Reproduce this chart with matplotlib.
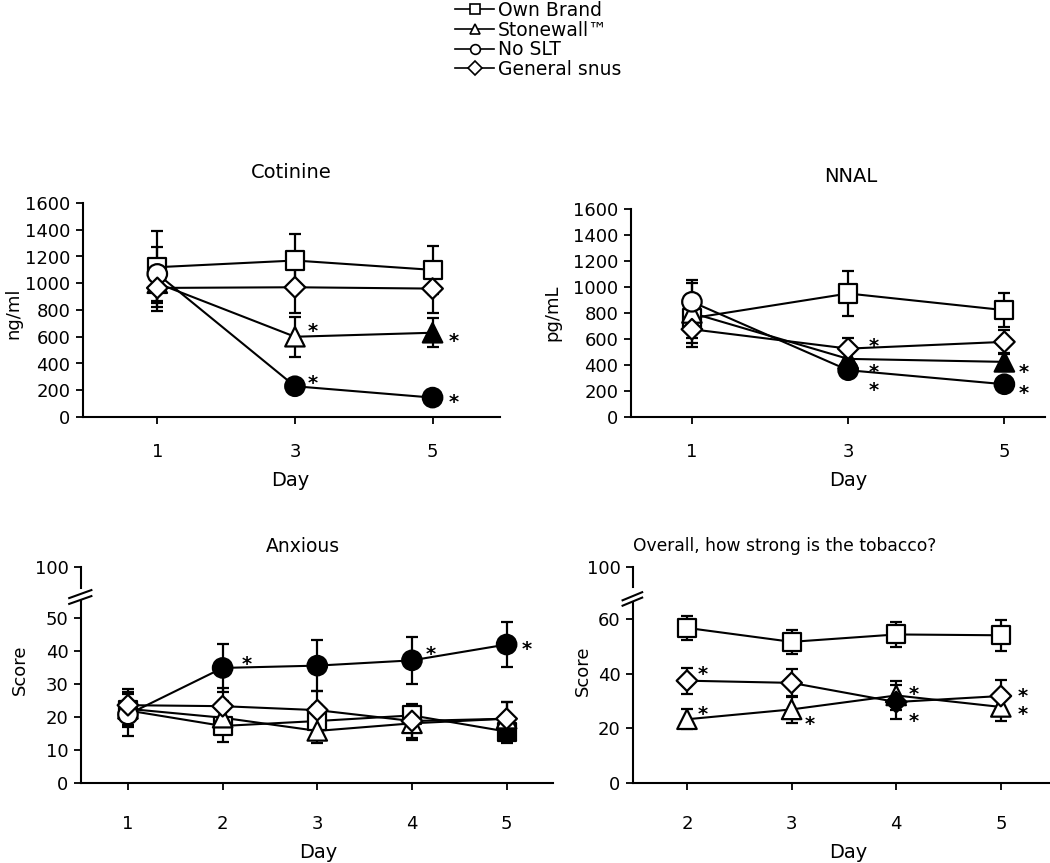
import matplotlib
matplotlib.use("Agg")
import matplotlib.pyplot as plt
from matplotlib.lines import Line2D

plt.rcParams['font.family'] = ['DejaVu Sans']

# DATA
series_names = ["Own Brand", "Stonewall\u2122", "No SLT", "General snus"]
series_markers = ["s", "^", "o", "D"]

# Cotinine (ng/ml), days 1, 3, 5
cot_days = ["1", "3", "5"]
cot_own = [1120, 1170, 1100]
cot_own_err = [270, 200, 180]
cot_stone = [1000, 600, 630]
cot_stone_err = [180, 150, 110]
cot_noslt = [1070, 230, 145]
cot_noslt_err = [200, 20, 15]
cot_gen = [965, 970, 960]
cot_gen_err = [170, 190, 180]
cot_filled_stone = [False, False, True]
cot_filled_noslt = [False, True, True]

# NNAL (pg/mL), days 1, 3, 5
nnal_days = ["1", "3", "5"]
nnal_own = [760, 950, 822]
nnal_own_err = [150, 175, 130]
nnal_stone = [800, 447, 424]
nnal_stone_err = [230, 60, 70]
nnal_noslt = [886, 360, 252]
nnal_noslt_err = [167, 50, 30]
nnal_gen = [675, 526, 578]
nnal_gen_err = [135, 85, 95]
nnal_filled_stone = [False, True, True]
nnal_filled_noslt = [False, True, True]

# Anxious score, days 1-5
anx_days = [1, 2, 3, 4, 5]
anx_own = [22.0, 17.3, 18.8, 20.5, 15.6]
anx_own_err = [5.0, 4.8, 5.0, 3.5, 3.6]
anx_stone = [22.5, 19.8, 15.8, 18.1, 19.5]
anx_stone_err = [5.0, 5.0, 3.8, 5.1, 5.0]
anx_noslt = [20.8, 34.9, 35.6, 37.2, 42.0]
anx_noslt_err = [6.5, 7.3, 7.8, 7.1, 6.8]
anx_gen = [23.6, 23.3, 22.1, 18.8, 19.5]
anx_gen_err = [5.0, 5.6, 5.8, 5.0, 5.0]
anx_filled_own = [False, False, False, False, True]
anx_filled_noslt = [False, True, True, True, True]

# Overall, how strong is the tobacco? days 2-5
str_days = [2, 3, 4, 5]
str_own = [56.7, 51.6, 54.3, 54.0]
str_own_err = [4.4, 4.4, 4.7, 5.7]
str_stone = [23.3, 26.9, 32.0, 27.8]
str_stone_err = [3.6, 4.9, 5.4, 5.1]
str_gen = [37.4, 36.6, 29.6, 31.8]
str_gen_err = [4.8, 5.1, 6.1, 6.0]
str_filled_gen = [False, False, True, False]

# significance stars: (series index, point index)
cot_stars = [(1, 1), (2, 1), (1, 2), (2, 2)]
nnal_stars = [(3, 1), (1, 1), (2, 1), (1, 2), (2, 2)]
anx_stars = [(2, 1), (2, 3), (2, 4)]
str_stars = [(3, 0), (1, 0), (1, 1), (1, 2), (3, 2), (3, 3), (1, 3)]

# STYLE / LAYOUT
W, H = 1050, 863
FS = 13
ms = {"s": 13, "^": 14, "o": 14, "D": 10.5}
# star offsets in pixels (dx, dy up)
cot_star_off = [(18, 10), (18, 8), (21, -4), (21, 0)]
nnal_star_off = [(26, 7), (26, -9), (26, -15), (19, -6), (19, -4)]
anx_star_off = [(24, 8), (19, 11), (20, 0)]
str_star_off = [(16, 11), (16, 10), (18, -10), (18, 6), (18, -14), (22, 5), (22, -3)]


def px_rect(left, top, right, bottom):
    return [left / W, 1 - bottom / H, (right - left) / W, (bottom - top) / H]


def style_axes(ax, xpad=20):
    for s in ["top", "right"]:
        ax.spines[s].set_visible(False)
    for s in ["left", "bottom"]:
        ax.spines[s].set_linewidth(1.5)
    ax.tick_params(axis="both", direction="out", length=5, width=1.3, labelsize=FS)
    ax.tick_params(axis="x", pad=xpad)
    ax.tick_params(axis="y", pad=4)


def draw_series(ax, x, vals, errs, marker, filled=None):
    if filled is None:
        filled = [False] * len(vals)
    ax.errorbar(x, vals, yerr=errs, fmt="none", ecolor="black", elinewidth=1.6,
                capsize=4.5, capthick=1.6, zorder=2)
    ax.plot(x, vals, color="black", lw=1.5, zorder=3)
    faces = ["black" if f else "white" for f in filled]
    ax.scatter(x, vals, s=ms[marker] ** 2, marker=marker, facecolors=faces,
               edgecolors="black", linewidths=1.6, zorder=4)


def add_stars(ax, x, series_vals, stars, offsets):
    for (si, pi), (dx, dy) in zip(stars, offsets):
        ax.annotate("*", (x[pi], series_vals[si][pi]), xytext=(dx, dy - 5),
                    textcoords="offset pixels", ha="center", va="center",
                    fontsize=14, fontweight="bold", zorder=5)


def add_break(ax, y_frac_pairs):
    for (y0, y1) in y_frac_pairs:
        ax.plot([-0.025, 0.022], [y0, y1], transform=ax.transAxes, color="black",
                lw=1.5, clip_on=False)


fig = plt.figure(figsize=(W / 100, H / 100), dpi=100)

# Cotinine
ax1 = fig.add_axes(px_rect(83, 203, 500, 417))
xc = [0, 1, 2]
cot_vals = [cot_own, cot_stone, cot_noslt, cot_gen]
draw_series(ax1, xc, cot_own, cot_own_err, "s")
draw_series(ax1, xc, cot_stone, cot_stone_err, "^", cot_filled_stone)
draw_series(ax1, xc, cot_noslt, cot_noslt_err, "o", cot_filled_noslt)
draw_series(ax1, xc, cot_gen, cot_gen_err, "D")
add_stars(ax1, xc, cot_vals, cot_stars, cot_star_off)
ax1.set_xlim(-0.54, 2.49)
ax1.set_ylim(0, 1600)
ax1.set_yticks(range(0, 1601, 200))
ax1.set_xticks(xc)
ax1.set_xticklabels(cot_days)
style_axes(ax1, xpad=14)

# NNAL
ax2 = fig.add_axes(px_rect(631, 209, 1045, 417))
nnal_vals = [nnal_own, nnal_stone, nnal_noslt, nnal_gen]
draw_series(ax2, xc, nnal_own, nnal_own_err, "s")
draw_series(ax2, xc, nnal_stone, nnal_stone_err, "^", nnal_filled_stone)
draw_series(ax2, xc, nnal_noslt, nnal_noslt_err, "o", nnal_filled_noslt)
draw_series(ax2, xc, nnal_gen, nnal_gen_err, "D")
add_stars(ax2, xc, nnal_vals, nnal_stars, nnal_star_off)
ax2.set_xlim(-0.39, 2.26)
ax2.set_ylim(0, 1600)
ax2.set_yticks(range(0, 1601, 200))
ax2.set_xticks(xc)
ax2.set_xticklabels(nnal_days)
style_axes(ax2, xpad=14)

# Anxious (broken axis)
ax3 = fig.add_axes(px_rect(81, 601, 553, 783))
anx_vals = [anx_own, anx_stone, anx_noslt, anx_gen]
draw_series(ax3, anx_days, anx_own, anx_own_err, "s", anx_filled_own)
draw_series(ax3, anx_days, anx_stone, anx_stone_err, "^")
draw_series(ax3, anx_days, anx_noslt, anx_noslt_err, "o", anx_filled_noslt)
draw_series(ax3, anx_days, anx_gen, anx_gen_err, "D")
add_stars(ax3, anx_days, anx_vals, anx_stars, anx_star_off)
ax3.set_xlim(0.504, 5.49)
ax3.set_ylim(0, 55.2)
ax3.set_yticks(range(0, 51, 10))
ax3.set_xticks(anx_days)
style_axes(ax3, xpad=18)
ax3b = fig.add_axes(px_rect(81, 567, 553, 588))
ax3b.set_xlim(ax3.get_xlim())
ax3b.set_ylim(90, 100)
ax3b.set_yticks([100])
ax3b.set_xticks([])
style_axes(ax3b)
ax3b.spines["bottom"].set_visible(False)
ax3b.patch.set_visible(False)
add_break(ax3, [(1.016, 1.06), (0.984, 1.027)])

# Overall strength (broken axis)
ax4 = fig.add_axes(px_rect(633, 603, 1050, 783))
str_vals = [str_own, str_stone, None, str_gen]
draw_series(ax4, str_days, str_own, str_own_err, "s")
draw_series(ax4, str_days, str_stone, str_stone_err, "^")
draw_series(ax4, str_days, str_gen, str_gen_err, "D", str_filled_gen)
add_stars(ax4, str_days, str_vals, str_stars, str_star_off)
ax4.set_xlim(1.484, 5.47)
ax4.set_ylim(0, 65.8)
ax4.set_yticks([0, 20, 40, 60])
ax4.set_xticks(str_days)
style_axes(ax4, xpad=18)
ax4b = fig.add_axes(px_rect(633, 567, 1050, 587))
ax4b.set_xlim(ax4.get_xlim())
ax4b.set_ylim(90, 100)
ax4b.set_yticks([100])
ax4b.set_xticks([])
style_axes(ax4b)
ax4b.spines["bottom"].set_visible(False)
ax4b.patch.set_visible(False)
add_break(ax4, [(1.015, 1.06), (0.985, 1.03)])


def ftext(x, y, s, size=FS, **kw):
    fig.text(x / W, 1 - y / H, s, ha="center", va="center", fontsize=size, **kw)


# titles and axis labels
ftext(291, 172, "Cotinine", 14)
ftext(851, 176, "NNAL", 14)
ftext(303, 546, "Anxious", 13.5)
ftext(785, 546, "Overall, how strong is the tobacco?", 12.3)
ftext(13, 313, "ng/ml", rotation=90)
ftext(552, 313, "pg/mL", rotation=90)
ftext(20, 670, "Score", rotation=90)
ftext(583, 671, "Score", rotation=90)
ftext(290, 480, "Day", 14)
ftext(848, 480, "Day", 14)
ftext(318, 852, "Day", 14)
ftext(848, 852, "Day", 14)

# legend
handles = [Line2D([], [], color="black", lw=1.2, marker=m, ms=7, mfc="white",
                  mec="black", mew=1.2) for m in series_markers]
fig.legend(handles, series_names, loc="upper left", bbox_to_anchor=(455 / W, 1 - 1 / H),
           frameon=False, fontsize=13.5, handlelength=2.1, handletextpad=0.2,
           labelspacing=0.03, borderpad=0, borderaxespad=0)

fig.savefig("out.png", dpi=100)
